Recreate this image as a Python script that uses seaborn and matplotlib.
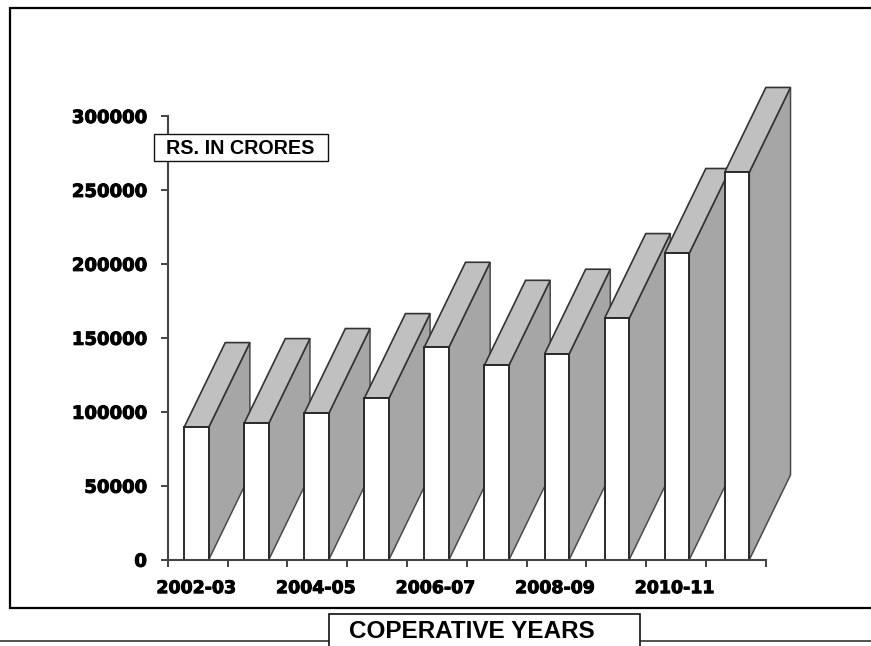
import matplotlib.pyplot as plt
import matplotlib.patheffects as pe
import numpy as np
import seaborn as sns
from matplotlib.lines import Line2D
from matplotlib.patches import Polygon, Rectangle

years = ['2002-03', '2003-04', '2004-05', '2005-06', '2006-07',
         '2007-08', '2008-09', '2009-10', '2010-11', '2011-12']
crores = [89500, 92200, 99000, 109100, 143800,
          131600, 139100, 163200, 207200, 262000]
y_ticks = [0, 50000, 100000, 150000, 200000, 250000, 300000]

W, H = 871, 646
sns.set_style('white')
plt.rcParams['font.family'] = ['DejaVu Sans']

fig = plt.figure(figsize=(W / 100, H / 100), dpi=100)
ax = fig.add_axes([167.7 / W, 1 - 559.7 / H, 598 / W, 443.7 / H])

bar_w = 0.41
sns.barplot(x=years, y=crores, color='white', saturation=1, width=bar_w,
            edgecolor='#2a2a2a', linewidth=1.4, ax=ax)

ax.set_xlim(-0.478, 9.477)
ax.set_ylim(0, 300000)

dx = 0.685
dy = 57300
half = bar_w / 2
for i, (bar, v) in enumerate(zip(ax.patches, crores)):
    bar.set_zorder(3 + i + 0.5)
    bar.set_clip_on(False)
    l, r = i - half, i + half
    side = Polygon([(r, 0), (r + dx, dy), (r + dx, v + dy), (r, v)],
                   facecolor='#a6a6a6', edgecolor='#4a4a4a', linewidth=1.1,
                   zorder=3 + i, clip_on=False)
    top = Polygon([(l, v), (l + dx, v + dy), (r + dx, v + dy), (r, v)],
                  facecolor='#c0c0c0', edgecolor='#333333', linewidth=1.2,
                  zorder=3 + i, clip_on=False)
    ax.add_patch(side)
    ax.add_patch(top)

sns.despine(ax=ax)
for s in ['left', 'bottom']:
    ax.spines[s].set_linewidth(1.5)
    ax.spines[s].set_color('#444444')
    ax.spines[s].set_zorder(50)

heavy = [pe.withStroke(linewidth=0.7, foreground='black')]
ax.set_xticks(np.arange(0, 10, 2) * 0.9955)
ax.set_xticklabels(years[::2], fontsize=12.5, fontweight='bold', color='black', path_effects=heavy)
ax.set_xticks(np.linspace(-0.478, 9.477, 11), minor=True)
ax.tick_params(axis='x', which='major', length=0, pad=14)
ax.tick_params(axis='x', which='minor', bottom=True, length=5, width=1.2, color='#222222')
ax.set_yticks(y_ticks)
ax.set_yticklabels([str(t) for t in y_ticks], fontsize=13, fontweight='bold', color='black', path_effects=heavy)
ax.tick_params(axis='y', left=True, length=5, width=1.2, color='#222222', pad=10)
ax.set_xlabel('')
ax.set_ylabel('')


def px_line(x0, y0, x1, y1, lw, color='black'):
    fig.add_artist(Line2D([x0 / W, x1 / W], [1 - y0 / H, 1 - y1 / H],
                          color=color, linewidth=lw, solid_capstyle='butt'))


def px_box(x0, y0, x1, y1, lw):
    fig.add_artist(Rectangle((x0 / W, 1 - y1 / H), (x1 - x0) / W, (y1 - y0) / H,
                             facecolor='white', edgecolor='#111111', linewidth=lw,
                             zorder=60, transform=fig.transFigure))


# outer frame, open on the right
px_line(9.5, 8, W, 8, 1.6)
px_line(9.5, 7, 9.5, 609, 1.6)
px_line(9, 608, W, 608, 1.6)
px_line(0, 641, 329, 641, 1.3, '#444444')
px_line(640, 641, W, 641, 1.3, '#444444')

px_box(154, 134, 328, 161, 1.0)
fig.text(240.5 / W, 1 - 149 / H, 'RS. IN CRORES', ha='center', va='center', zorder=61,
         fontsize=14.2, fontweight='bold', family='Liberation Sans', color='black')

px_box(329, 614, 640, 660, 1.2)
fig.text(471.5 / W, 1 - 631 / H, 'COPERATIVE YEARS', ha='center', va='center', zorder=61,
         fontsize=17.5, fontweight='bold', family='Liberation Sans', color='black')

fig.savefig('out.png', dpi=100)
